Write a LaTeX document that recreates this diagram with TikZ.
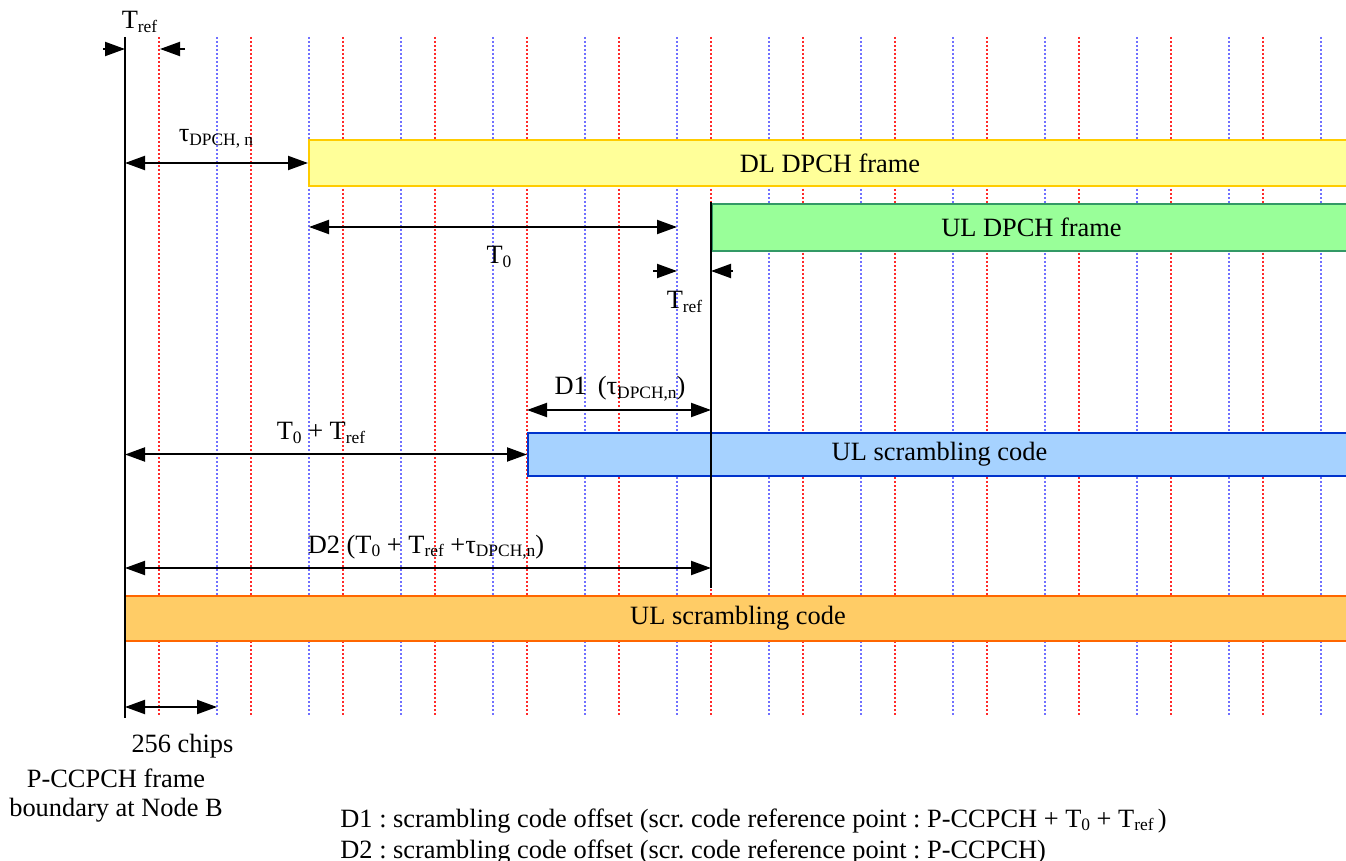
\documentclass[tikz,border=0pt]{standalone}
\usepackage{fontspec}
\setmainfont{Liberation Serif}
\usetikzlibrary{arrows.meta}

\definecolor{dlFill}{HTML}{FFFF99}
\definecolor{dlDraw}{HTML}{FFCC00}
\definecolor{ulFill}{HTML}{99FF99}
\definecolor{ulDraw}{HTML}{339966}
\definecolor{scFill}{HTML}{A6D2FF}
\definecolor{scDraw}{HTML}{0033CC}
\definecolor{pcFill}{HTML}{FFCC66}
\definecolor{pcDraw}{HTML}{FF6600}
\definecolor{chipRed}{HTML}{FF2A2A}
\definecolor{chipBlue}{HTML}{7070FF}

\newcommand{\subtxt}[1]{\raisebox{-1.7pt}{\fontsize{8.7}{9}\selectfont #1}}
\frenchspacing

\begin{document}
\begin{tikzpicture}[x = 0.5pt, y = -0.5pt, font = \fontsize{13.2}{15.5}\selectfont]
	\tikzstyle{redLine} = [draw = chipRed, line width = 0.9pt, dash pattern = on 1pt off 1pt]
	\tikzstyle{blueLine} = [draw = chipBlue, line width = 0.8pt, dash pattern = on 1pt off 1pt]
	\tikzstyle{frameStyle} = [draw, line width = 1pt, inner sep = 0pt, anchor = west]
	\tikzstyle{solidLine} = [line width = 1pt]
	\tikzstyle{dimBoth} = [line width = 1pt, {Triangle[length = 10pt, width = 7pt]}-{Triangle[length = 10pt, width = 7pt]}]
	\tikzstyle{dimTip} = [line width = 1pt, -{Triangle[length = 10pt, width = 7pt]}]
	\tikzstyle{labelStyle} = [inner sep = 0pt, anchor = base]
	\useasboundingbox (0, 0) rectangle (1346, 861);
	% chip grid
	\draw[redLine] (159, 37) -- (159, 717);
	\draw[blueLine] (217, 37) -- (217, 717);
	\draw[redLine] (251, 37) -- (251, 717);
	\draw[blueLine] (309, 37) -- (309, 717);
	\draw[redLine] (343, 37) -- (343, 717);
	\draw[blueLine] (401, 37) -- (401, 717);
	\draw[redLine] (435, 37) -- (435, 717);
	\draw[blueLine] (493, 37) -- (493, 717);
	\draw[redLine] (527, 37) -- (527, 717);
	\draw[blueLine] (585, 37) -- (585, 717);
	\draw[redLine] (619, 37) -- (619, 717);
	\draw[blueLine] (677, 37) -- (677, 717);
	\draw[redLine] (711, 37) -- (711, 717);
	\draw[blueLine] (769, 37) -- (769, 717);
	\draw[redLine] (803, 37) -- (803, 717);
	\draw[blueLine] (861, 37) -- (861, 717);
	\draw[redLine] (895, 37) -- (895, 717);
	\draw[blueLine] (953, 37) -- (953, 717);
	\draw[redLine] (987, 37) -- (987, 717);
	\draw[blueLine] (1045, 37) -- (1045, 717);
	\draw[redLine] (1079, 37) -- (1079, 717);
	\draw[blueLine] (1137, 37) -- (1137, 717);
	\draw[redLine] (1171, 37) -- (1171, 717);
	\draw[blueLine] (1229, 37) -- (1229, 717);
	\draw[redLine] (1263, 37) -- (1263, 717);
	\draw[blueLine] (1321, 37) -- (1321, 717);
	% frames
	\node[frameStyle, draw = dlDraw, fill = dlFill, minimum width = 521pt, minimum height = 23pt] (dlFrame) at (308, 163) {DL DPCH frame};
	\node[frameStyle, draw = ulDraw, fill = ulFill, minimum width = 319.5pt, minimum height = 23.5pt] (ulFrame) at (711, 227.5) {UL DPCH frame};
	\node[frameStyle, draw = scDraw, fill = scFill, minimum width = 411.5pt, minimum height = 21.5pt] (ulCode) at (527, 454.5) {UL scrambling code};
	\node[frameStyle, draw = pcDraw, fill = pcFill, minimum width = 613pt, minimum height = 22.5pt] (pcCode) at (124, 618.5) {UL scrambling code};
	% boundaries
	\coordinate (refTop) at (125, 37);
	\coordinate (refBot) at (125, 718);
	\coordinate (ulTop) at (711, 202);
	\coordinate (ulBot) at (711, 588);
	\draw[solidLine] (refTop) -- (refBot);
	\draw[solidLine] (ulTop) -- (ulBot);
	% offsets
	\coordinate (trefLeft) at (103, 49);
	\coordinate (trefRight) at (185, 49);
	\coordinate (trefRightTip) at (160, 49);
	\draw[dimTip] (trefLeft) -- (refTop |- trefLeft);
	\draw[dimTip] (trefRight) -- (trefRightTip);
	\draw[dimBoth] (refTop |- dlFrame.west) -- (dlFrame.west);
	\coordinate (tzeroLeft) at (309, 227);
	\coordinate (tzeroRight) at (677, 227);
	\draw[dimBoth] (tzeroLeft) -- (tzeroRight);
	\coordinate (trefMidLeft) at (653, 271);
	\coordinate (trefMidRight) at (733, 271);
	\draw[dimTip] (trefMidLeft) -- (tzeroRight |- trefMidLeft);
	\draw[dimTip] (trefMidRight) -- (ulTop |- trefMidRight);
	\coordinate (dOneLeft) at (527, 410);
	\draw[dimBoth] (dOneLeft) -- (ulTop |- dOneLeft);
	\draw[dimBoth] (refTop |- ulCode.west) -- (ulCode.west);
	\coordinate (dTwoLeft) at (125, 568);
	\draw[dimBoth] (dTwoLeft) -- (ulTop |- dTwoLeft);
	\coordinate (chipLeft) at (125, 707);
	\coordinate (chipRight) at (217, 707);
	\draw[dimBoth] (chipLeft) -- (chipRight);
	% labels
	\node[labelStyle] (trefTopLbl) at (139.5, 29) {T\subtxt{ref}};
	\node[labelStyle] (tauLbl) at (216, 142) {τ\subtxt{DPCH, n}};
	\node[labelStyle] (tzeroLbl) at (499, 264) {T\subtxt{0}};
	\node[labelStyle] (trefMidLbl) at (684.5, 309) {T\subtxt{ref}};
	\node[labelStyle] (dOneLbl) at (620, 395) {D1 \,(τ\subtxt{DPCH,n})};
	\node[labelStyle] (tsumLbl) at (321, 440) {T\subtxt{0} + T\subtxt{ref}};
	\node[labelStyle] (dTwoLbl) at (426, 553) {D2 (T\subtxt{0} + T\subtxt{ref} +τ\subtxt{DPCH,n})};
	\node[labelStyle] (chipLbl) at (182.5, 752) {256 chips};
	\node[labelStyle] (pcFrameLbl) at (116, 787) {P-CCPCH frame};
	\node[labelStyle] (pcNodeLbl) at (116, 816) {boundary at Node B};
	\node[labelStyle, anchor = base west] (dOneNote) at (340, 827) {D1 : scrambling code offset (scr. code reference point : P-CCPCH + T\subtxt{0} + T\subtxt{ref}\,)};
	\node[labelStyle, anchor = base west] (dTwoNote) at (340, 858) {D2 : scrambling code offset (scr. code reference point : P-CCPCH)};
\end{tikzpicture}
\end{document}
